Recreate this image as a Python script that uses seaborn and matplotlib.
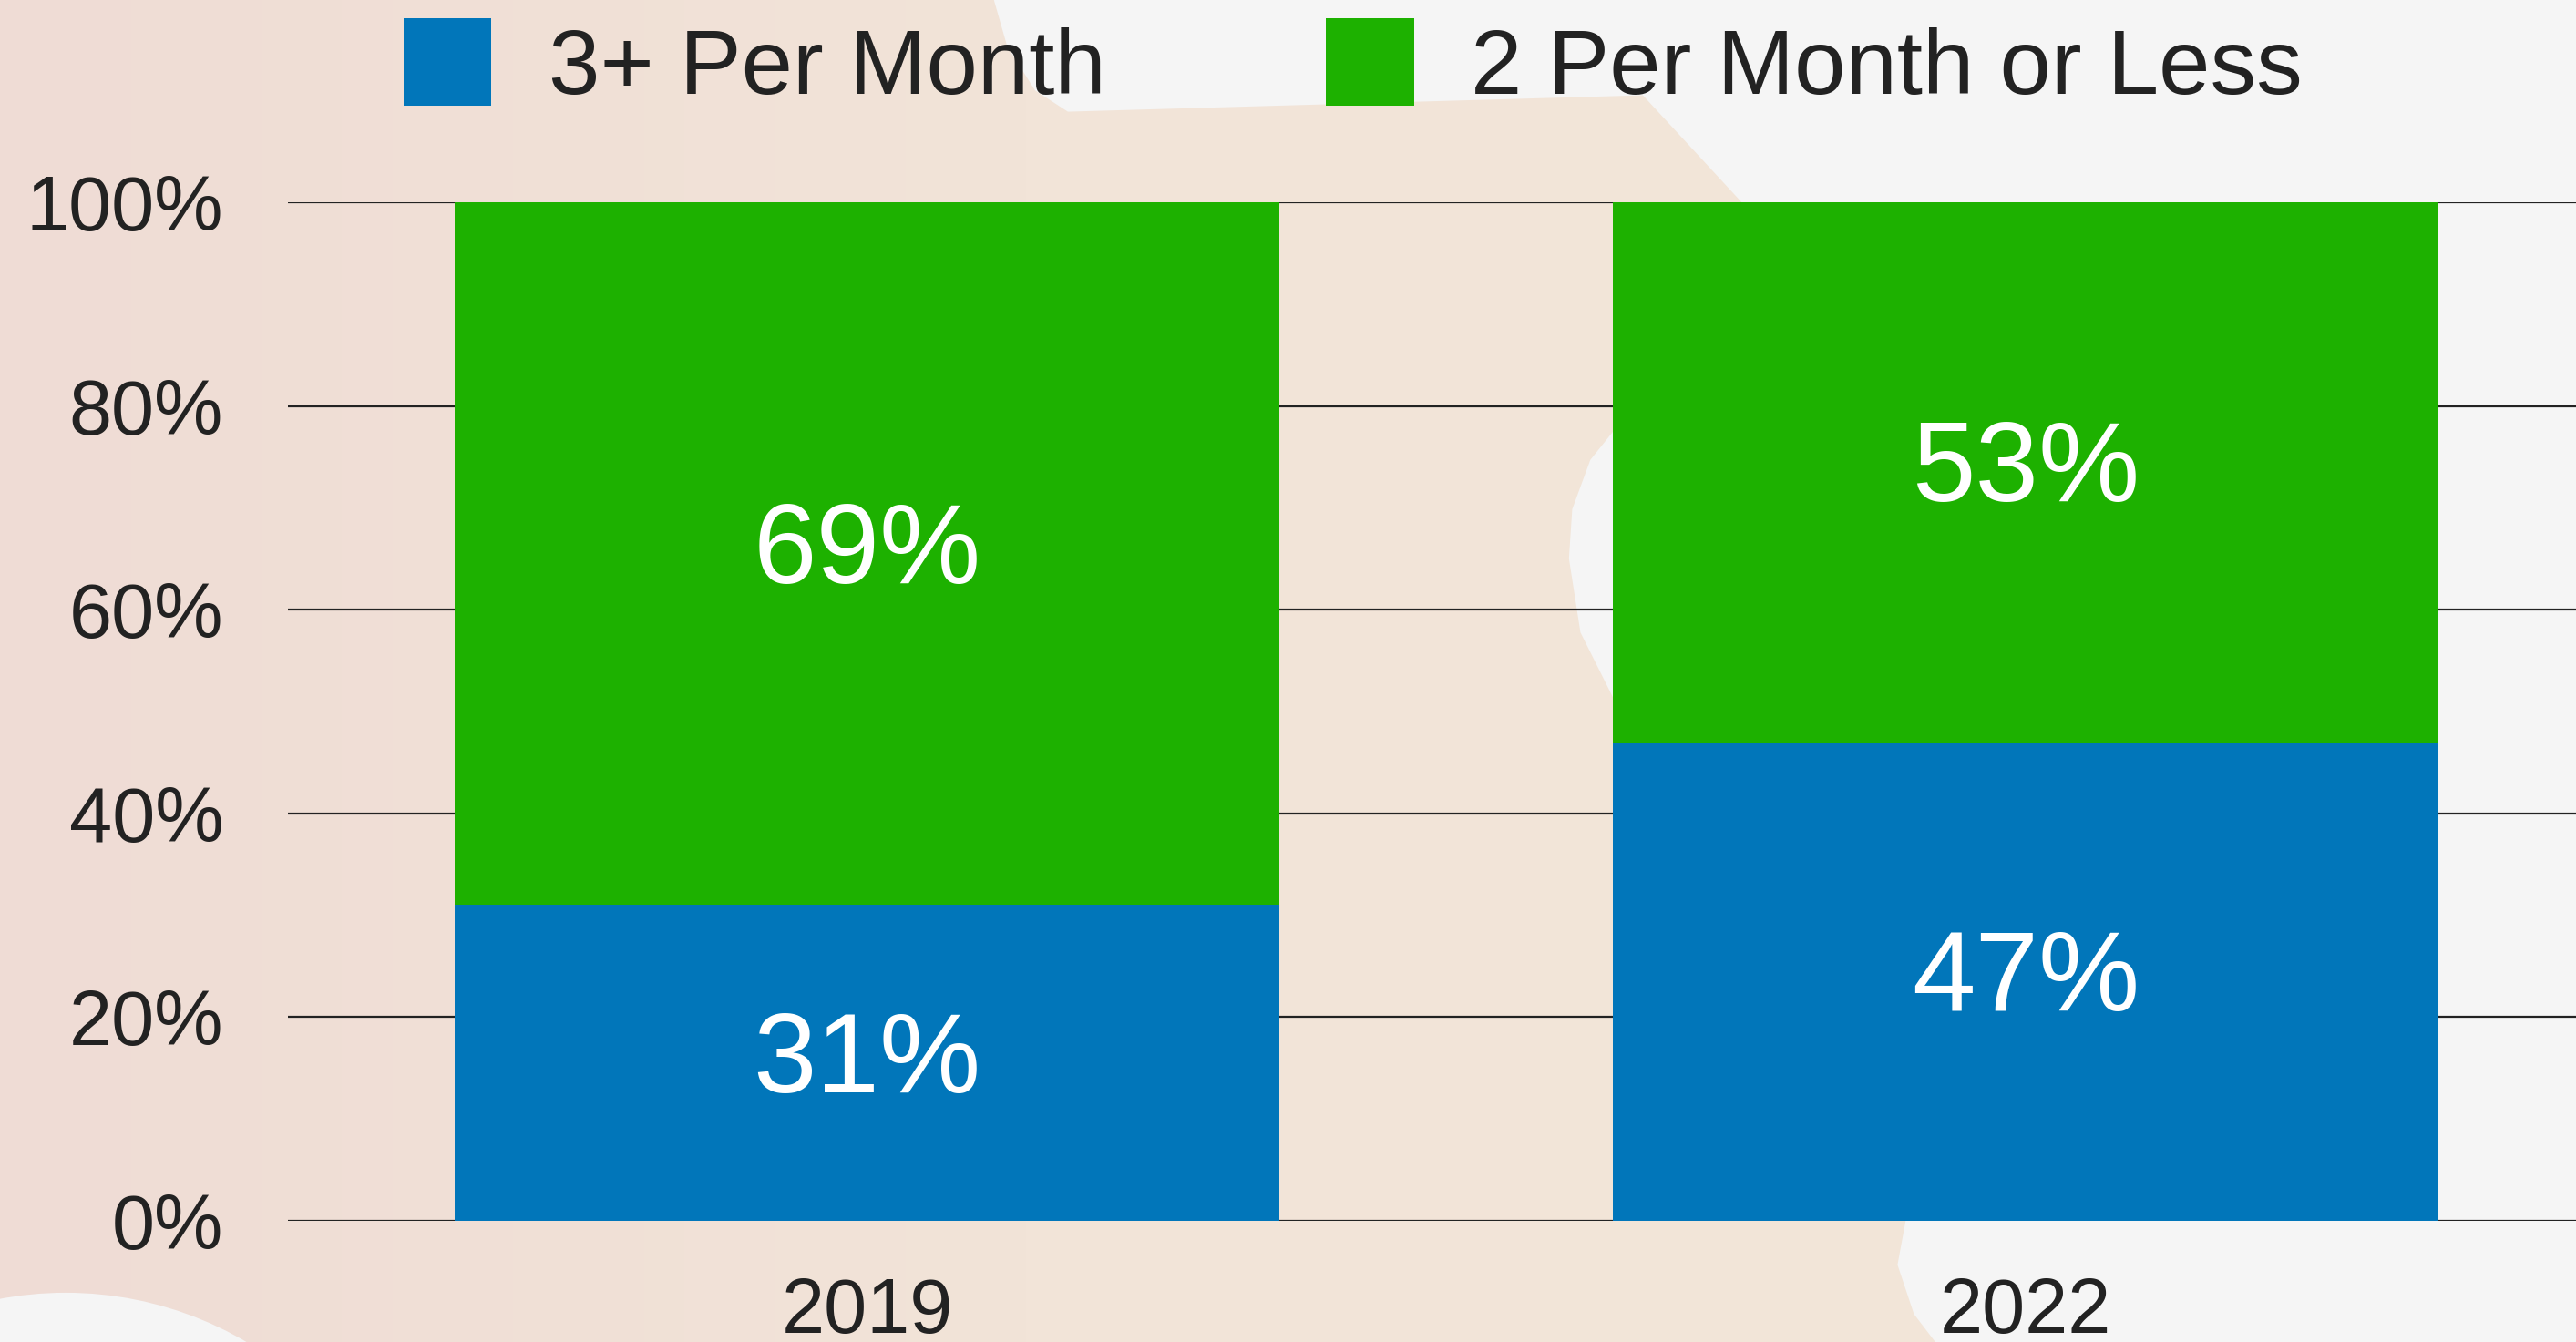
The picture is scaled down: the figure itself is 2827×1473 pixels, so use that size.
import numpy as np
import pandas as pd
import seaborn as sns
import matplotlib
matplotlib.use("Agg")
import matplotlib.pyplot as plt
from matplotlib.patches import Polygon, Circle, Patch
from matplotlib.colors import LinearSegmentedColormap

# ---- data ----
years = ["2019", "2022"]
three_plus = [31, 47]
two_or_less = [69, 53]
series_names = ["3+ Per Month", "2 Per Month or Less"]
y_ticks = [0, 20, 40, 60, 80, 100]
y_tick_labels = ["0%", "20%", "40%", "60%", "80%", "100%"]

BLUE = "#0176BA"
GREEN = "#1DB100"
TEXT = "#222222"
GRAY_BG = "#F5F5F5"

sns.set_theme(style="white")
plt.rcParams["font.family"] = ["Liberation Sans", "DejaVu Sans"]

fig = plt.figure(figsize=(28.27, 14.73), dpi=100)

# ---- decorative background ----
bg = fig.add_axes([0, 0, 1, 1], zorder=-10)
grad = np.linspace(0, 1, 512).reshape(1, -1)
cmap = LinearSegmentedColormap.from_list(
    "bg", [(0, "#EFDCD5"), (0.4, "#F2E4D8"), (1, "#F3E7D9")])
bg.imshow(grad, extent=[0, 1568, 817, 0], aspect="auto", cmap=cmap)
gray_poly = [(605, 0), (613, 28), (630, 55), (650, 68), (1000, 58), (1060, 123),
             (1040, 200), (992, 250), (968, 280), (957, 310), (955, 340),
             (962, 385), (982, 425), (1120, 600), (1160, 743), (1155, 770),
             (1165, 800), (1178, 817), (1568, 817), (1568, 0)]
bg.add_patch(Polygon(gray_poly, closed=True, facecolor=GRAY_BG, edgecolor="none"))
bg.add_patch(Circle((40, 1004), 217, facecolor=GRAY_BG, edgecolor="none"))
bg.set_xlim(0, 1568)
bg.set_ylim(817, 0)
bg.axis("off")

# ---- main chart ----
ax = fig.add_axes([316 / 2827, 1 - 1340 / 1473, 1 - 316 / 2827, (1340 - 222) / 1473])
ax.patch.set_alpha(0)

df = pd.DataFrame({
    "year": years,
    "three_plus": three_plus,
    "two_or_less": two_or_less,
})
df["total"] = df["three_plus"] + df["two_or_less"]

sns.barplot(data=df, x="year", y="total", color=GREEN, saturation=1,
            width=0.712, linewidth=0, edgecolor="none", ax=ax, zorder=2)
sns.barplot(data=df, x="year", y="three_plus", color=BLUE, saturation=1,
            width=0.712, linewidth=0, edgecolor="none", ax=ax, zorder=3)

for i in range(len(years)):
    ax.text(i, three_plus[i] / 2, f"{three_plus[i]}%", ha="center", va="center",
            color="white", fontsize=90, zorder=5)
    ax.text(i, three_plus[i] + two_or_less[i] / 2, f"{two_or_less[i]}%",
            ha="center", va="center", color="white", fontsize=90, zorder=5)

ax.set_ylim(0, 100)
ax.set_xlim(-0.5, 1.475)
ax.set_yticks(y_ticks)
ax.set_yticklabels(y_tick_labels)
ax.set_xlabel("")
ax.set_ylabel("")
ax.tick_params(axis="y", length=0, pad=51, labelsize=61, labelcolor=TEXT)
ax.tick_params(axis="x", length=0, pad=44, labelsize=61, labelcolor=TEXT)
ax.yaxis.grid(True, color=TEXT, linewidth=1.6)
ax.xaxis.grid(False)
ax.set_axisbelow(True)
for s in ax.spines.values():
    s.set_visible(False)

handles = [Patch(facecolor=BLUE, edgecolor="none", label=series_names[0]),
           Patch(facecolor=GREEN, edgecolor="none", label=series_names[1])]
leg = ax.legend(handles=handles, loc="center left",
                bbox_to_anchor=(443 / 2827, 1 - 72 / 1473),
                bbox_transform=fig.transFigure, ncol=2, frameon=False,
                fontsize=73, handlelength=0.95, handleheight=1.07,
                handletextpad=0.62, columnspacing=2.38, borderpad=0,
                borderaxespad=0)
for t in leg.get_texts():
    t.set_color(TEXT)

fig.savefig("out.png", dpi=100)
